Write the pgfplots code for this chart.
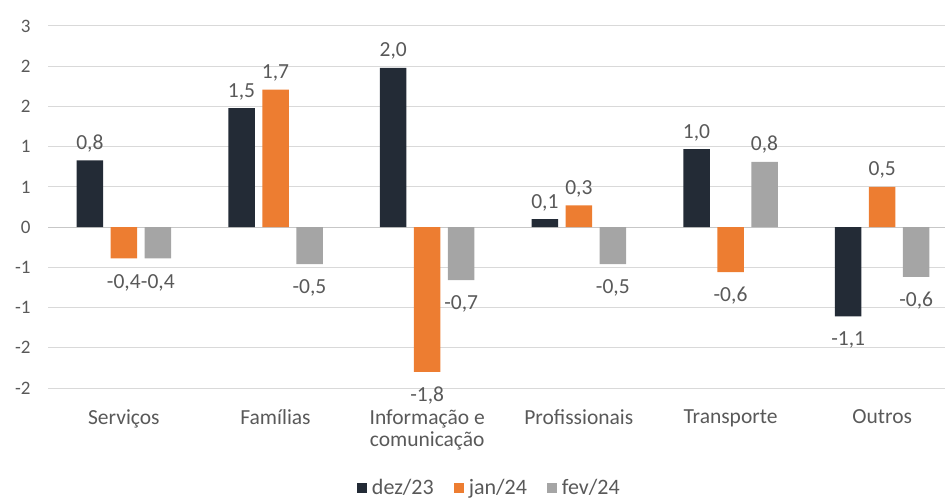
\documentclass[border=0pt]{standalone}
\usepackage{pgfplots}
\pgfplotsset{compat=1.18}
\usepackage{pgfplotstable}
\usepackage{fontspec}
\setmainfont{Carlito}
\definecolor{cdez}{HTML}{232B36}
\definecolor{cjan}{HTML}{ED7D31}
\definecolor{cfev}{HTML}{A5A5A5}
\definecolor{ctext}{HTML}{595959}
\definecolor{cgrid}{HTML}{D9D9D9}
\pgfplotstableread{
x dez jan fev
0 0.83 -0.39 -0.39
1 1.48 1.71 -0.46
2 1.98 -1.80 -0.66
3 0.10 0.27 -0.46
4 0.97 -0.56 0.81
5 -1.11 0.50 -0.62
}\data
\begin{document}
\begin{tikzpicture}
\useasboundingbox (0,0) rectangle (945pt,499pt);
\begin{axis}[
  at={(48pt,111pt)}, anchor=south west,
  scale only axis, width=897pt, height=362pt,
  xmin=-0.5, xmax=5.414, ymin=-2, ymax=2.5,
  ybar=7.5pt, bar width=26.5pt,
  axis line style={draw=none},
  ymajorgrids, grid style={cgrid, line width=1pt},
  ytick={-2,-1.5,-1,-0.5,0,0.5,1,1.5,2,2.5},
  yticklabels={-2,-2,-1,-1,0,1,1,2,2,3},
  extra y ticks={0}, extra y tick labels={},
  extra y tick style={grid style={draw=black!22, line width=1.2pt}},
  major tick length=0pt,
  xtick={0,1,2,3,4,5},
  xticklabels={Serviços,Famílias,{Informação e\\comunicação},Profissionais,Transporte,Outros},
  xticklabel style={align=center, font=\fontsize{21.5}{22}\selectfont, text=ctext, yshift=-18pt},
  yticklabel style={font=\fontsize{19}{20}\selectfont, text=ctext, xshift=-14pt},
  nodes near coords={\rule[-7.5pt]{0pt}{33.5pt}\pgfmathprintnumber{\pgfplotspointmeta}},
  nodes near coords style={font=\fontsize{21.5}{23}\selectfont, text=ctext},
  legend style={draw=none, at={(0.492,-0.276)}, anchor=center, font=\fontsize{22}{23}\selectfont, text=ctext, legend columns=3,
    /tikz/every odd column/.append style={column sep=3pt},
    /tikz/every even column/.append style={column sep=18pt}},
  legend image code/.code={\fill[#1] (0pt,-5pt) rectangle (10pt,5pt);},
  /pgf/number format/.cd, use comma, fixed, fixed zerofill, precision=1, assume math mode=true
]
\addplot[fill=cdez, draw=none] table[x=x, y=dez] {\data};
\addplot[fill=cjan, draw=none] table[x=x, y=jan] {\data};
\addplot[fill=cfev, draw=none] table[x=x, y=fev] {\data};
\legend{dez/23, jan/24, fev/24}
\end{axis}
\end{tikzpicture}
\end{document}
